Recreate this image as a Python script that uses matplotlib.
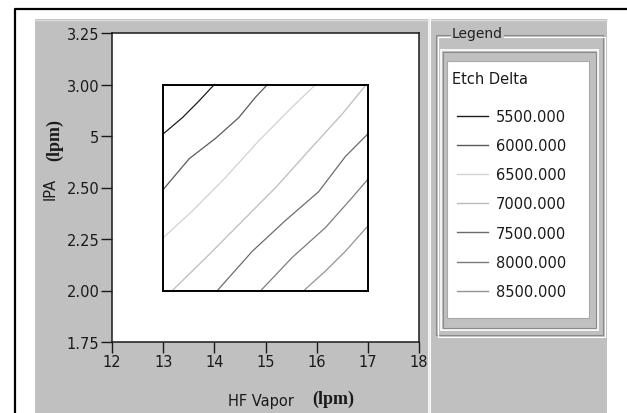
import matplotlib
matplotlib.use('Agg')
import matplotlib.pyplot as plt
from matplotlib.patches import Rectangle
from matplotlib.lines import Line2D

# contour levels and the traced points of each iso-line
levels = [5500, 6000, 6500, 7000, 7500, 8000, 8500]
level_colors = ['#1c1c1c', '#5a5a5a', '#d2d2d2', '#bcbcbc', '#6c6c6c', '#7c7c7c', '#949494']
contour_x = [
    [13.00, 13.38, 13.70, 14.00],
    [13.00, 13.51, 14.03, 14.48, 14.81, 15.04],
    [13.00, 13.57, 14.22, 14.87, 15.52, 15.98],
    [13.18, 13.90, 14.55, 15.20, 15.85, 16.50, 16.97],
    [14.06, 14.74, 15.39, 16.04, 16.56, 17.00],
    [14.91, 15.52, 16.17, 16.69, 17.00],
    [15.75, 16.17, 16.56, 17.00],
]
contour_y = [
    [2.76, 2.84, 2.92, 3.00],
    [2.49, 2.64, 2.74, 2.84, 2.94, 3.00],
    [2.256, 2.386, 2.549, 2.727, 2.89, 3.00],
    [2.00, 2.175, 2.338, 2.50, 2.68, 2.857, 3.00],
    [2.00, 2.19, 2.34, 2.48, 2.65, 2.76],
    [2.00, 2.16, 2.305, 2.45, 2.54],
    [2.00, 2.094, 2.19, 2.313],
]

# design region (HF Vapor x IPA)
region_x = [13, 17]
region_y = [2.0, 3.0]

x_ticks = [12, 13, 14, 15, 16, 17, 18]
y_ticks = [1.75, 2.00, 2.25, 2.50, 2.75, 3.00, 3.25]
y_tick_labels = ['1.75', '2.00', '2.25', '2.50', '5', '3.00', '3.25']

W, H = 627, 414
fig = plt.figure(figsize=(W / 100, H / 100), dpi=100)
fig.patch.set_facecolor('white')


def fx(px):
    return px / W


def fy(py):
    return 1 - py / H


# background panels, drawn in pixel space
bg = fig.add_axes([0, 0, 1, 1], zorder=0)
bg.set_xlim(0, W)
bg.set_ylim(H, 0)
bg.axis('off')

gray = '#c0c0c0'
bg.add_patch(Rectangle((35, 20), 393, 400, facecolor=gray, edgecolor='none'))
bg.add_patch(Rectangle((431, 20), 176, 400, facecolor=gray, edgecolor='none'))
bg.plot([35, 428], [21, 21], color='#dcdcdc', lw=1)
bg.plot([431, 607], [21, 21], color='#dcdcdc', lw=1)
bg.plot([428.5, 428.5], [20, 414], color='#8a8a8a', lw=0.8)
bg.plot([430, 430], [20, 414], color='white', lw=1.2)
# outer frame
bg.plot([14.5, 14.5, W], [H, 9.5, 9.5], color='black', lw=1.6)

# legend group box (etched)
bg.add_patch(Rectangle((436, 36), 167, 300, fill=False, edgecolor='#8a8a8a', lw=0.8))
bg.add_patch(Rectangle((437.5, 37.5), 167, 300, fill=False, edgecolor='white', lw=0.8))
bg.add_patch(Rectangle((441, 51), 157, 280, fill=False, edgecolor='white', lw=1.2))
bg.add_patch(Rectangle((443, 53), 153, 276, fill=False, edgecolor='#8a8a8a', lw=0.8))
bg.add_patch(Rectangle((447, 62), 142, 257, facecolor='white', edgecolor='#a8a8a8', lw=0.8))
bg.text(452, 34, 'Legend', fontsize=10, va='center', ha='left', color='#202020',
        bbox=dict(facecolor=gray, edgecolor='none', pad=1))

# main plot
ax = fig.add_axes([fx(112), fy(343), fx(419) - fx(112), fy(34) - fy(343)], zorder=2)
ax.set_facecolor('white')
ax.set_xlim(12, 18)
ax.set_ylim(1.75, 3.25)

ax.add_patch(Rectangle((region_x[0], region_y[0]), region_x[1] - region_x[0],
                       region_y[1] - region_y[0], fill=False, edgecolor='black', lw=1.4, zorder=3))

handles = []
for lev, col, xs, ys in zip(levels, level_colors, contour_x, contour_y):
    ln, = ax.plot(xs, ys, color=col, lw=0.9, zorder=2)
    handles.append(Line2D([0], [0], color=col, lw=1.0))

ax.set_xticks(x_ticks)
ax.set_yticks(y_ticks)
ax.set_yticklabels(y_tick_labels)
ax.tick_params(direction='out', length=8, width=1, pad=1, labelsize=10.5, colors='#1a1a1a')
for s in ax.spines.values():
    s.set_linewidth(1.1)
    s.set_color('#1a1a1a')

# axis titles: plain name plus a bold serif unit
fig.text(fx(228), fy(402), 'HF Vapor', fontsize=10.5, ha='left', va='center', color='#1a1a1a')
fig.text(fx(312), fy(399), '(lpm)', fontsize=13, ha='left', va='center', color='#1a1a1a',
         family='Liberation Serif', fontweight='bold')
fig.text(fx(50), fy(189), 'IPA', fontsize=10.5, ha='center', va='center', rotation=90, color='#1a1a1a')
fig.text(fx(55), fy(140), '(lpm)', fontsize=13, ha='center', va='center', rotation=90,
         color='#1a1a1a', family='Liberation Serif', fontweight='bold')

# legend entries
fig.text(fx(452), fy(80), 'Etch Delta', fontsize=10.5, ha='left', va='center', color='#1a1a1a', zorder=5)
labels = ['%.3f' % v for v in levels]
leg = fig.legend(handles, labels, loc='upper left', bbox_to_anchor=(fx(457), fy(110)),
                 frameon=False, fontsize=10.5, handlelength=2.1, handletextpad=0.55,
                 labelspacing=0.97, borderpad=0, borderaxespad=0)
for t in leg.get_texts():
    t.set_color('#1a1a1a')

fig.savefig('out.png', dpi=100, facecolor='white')
